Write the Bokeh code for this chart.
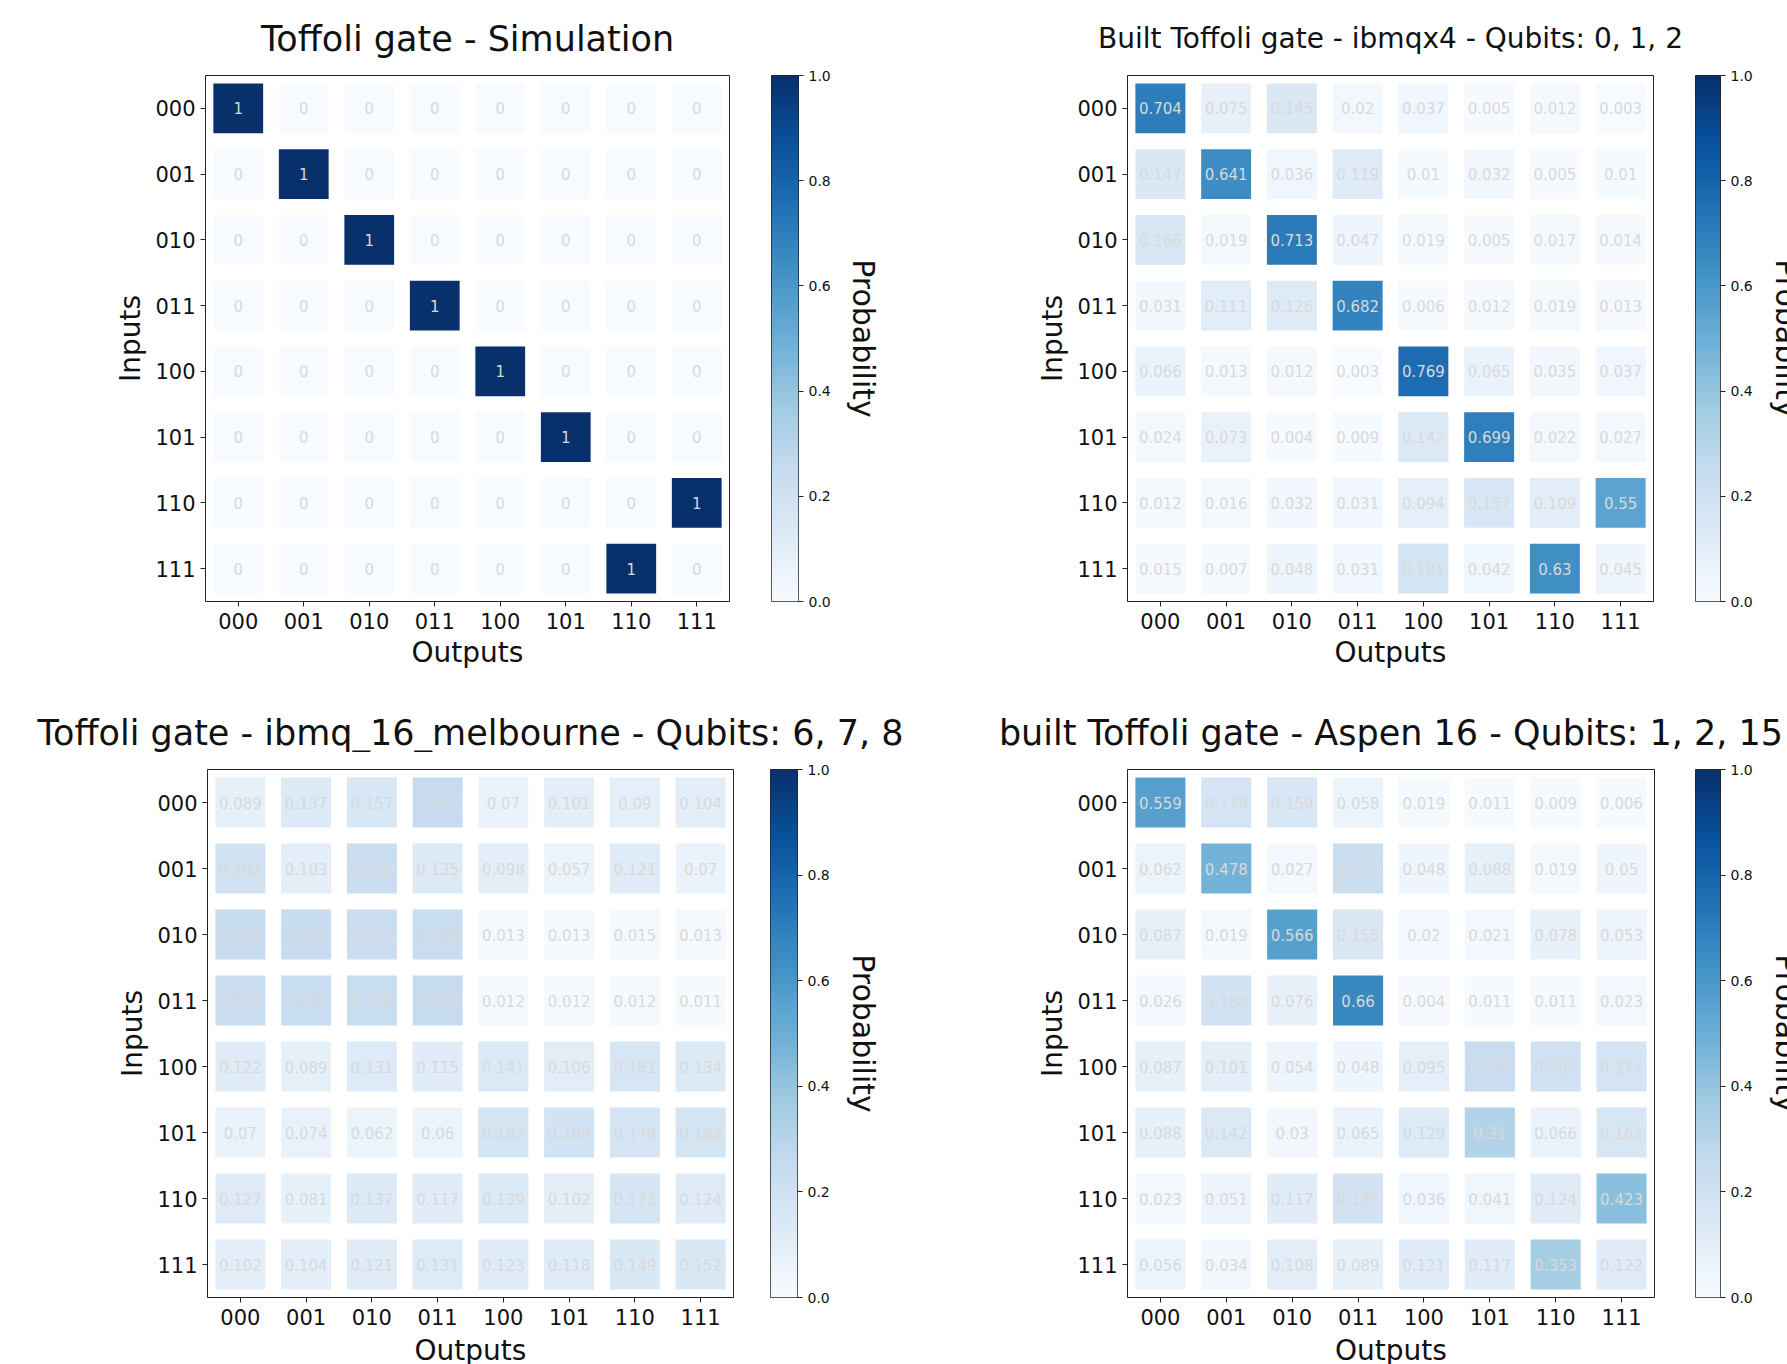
import numpy as np
from math import pi
from bokeh.plotting import figure
from bokeh.models import Range1d, FixedTicker, LinearColorMapper, ColumnDataSource, LinearAxis
from bokeh.layouts import row, column
from bokeh.palettes import Blues256
from bokeh.transform import linear_cmap
from bokeh.core.properties import value
from bokeh.embed import file_html
from bokeh.resources import INLINE

# ---------------- data ----------------
states = ["000", "001", "010", "011", "100", "101", "110", "111"]

simulation = [
    [1, 0, 0, 0, 0, 0, 0, 0],
    [0, 1, 0, 0, 0, 0, 0, 0],
    [0, 0, 1, 0, 0, 0, 0, 0],
    [0, 0, 0, 1, 0, 0, 0, 0],
    [0, 0, 0, 0, 1, 0, 0, 0],
    [0, 0, 0, 0, 0, 1, 0, 0],
    [0, 0, 0, 0, 0, 0, 0, 1],
    [0, 0, 0, 0, 0, 0, 1, 0],
]

ibmqx4 = [
    [0.704, 0.075, 0.145, 0.02, 0.037, 0.005, 0.012, 0.003],
    [0.147, 0.641, 0.036, 0.119, 0.01, 0.032, 0.005, 0.01],
    [0.166, 0.019, 0.713, 0.047, 0.019, 0.005, 0.017, 0.014],
    [0.031, 0.111, 0.126, 0.682, 0.006, 0.012, 0.019, 0.013],
    [0.066, 0.013, 0.012, 0.003, 0.769, 0.065, 0.035, 0.037],
    [0.024, 0.073, 0.004, 0.009, 0.142, 0.699, 0.022, 0.027],
    [0.012, 0.016, 0.032, 0.031, 0.094, 0.157, 0.109, 0.55],
    [0.015, 0.007, 0.048, 0.031, 0.181, 0.042, 0.63, 0.045],
]

melbourne = [
    [0.089, 0.137, 0.157, 0.252, 0.07, 0.101, 0.09, 0.104],
    [0.192, 0.103, 0.226, 0.135, 0.098, 0.057, 0.121, 0.07],
    [0.242, 0.243, 0.223, 0.238, 0.013, 0.013, 0.015, 0.013],
    [0.234, 0.235, 0.236, 0.248, 0.012, 0.012, 0.012, 0.011],
    [0.122, 0.089, 0.131, 0.115, 0.141, 0.106, 0.161, 0.134],
    [0.07, 0.074, 0.062, 0.06, 0.183, 0.189, 0.179, 0.183],
    [0.127, 0.081, 0.137, 0.117, 0.139, 0.102, 0.173, 0.124],
    [0.102, 0.104, 0.121, 0.131, 0.123, 0.118, 0.149, 0.152],
]

aspen = [
    [0.559, 0.179, 0.159, 0.058, 0.019, 0.011, 0.009, 0.006],
    [0.062, 0.478, 0.027, 0.227, 0.048, 0.088, 0.019, 0.05],
    [0.087, 0.019, 0.566, 0.155, 0.02, 0.021, 0.078, 0.053],
    [0.026, 0.188, 0.076, 0.66, 0.004, 0.011, 0.011, 0.023],
    [0.087, 0.101, 0.054, 0.048, 0.095, 0.234, 0.205, 0.177],
    [0.088, 0.142, 0.03, 0.065, 0.129, 0.31, 0.066, 0.162],
    [0.023, 0.051, 0.117, 0.186, 0.036, 0.041, 0.124, 0.423],
    [0.056, 0.034, 0.108, 0.089, 0.121, 0.117, 0.353, 0.122],
]

titles = [
    "Toffoli gate - Simulation",
    "Built Toffoli gate - ibmqx4 - Qubits: 0, 1, 2",
    "Toffoli gate - ibmq_16_melbourne - Qubits: 6, 7, 8",
    "built Toffoli gate - Aspen 16 - Qubits: 1, 2, 15",
]
x_title = "Outputs"
y_title = "Inputs"
cbar_title = "Probability"
cbar_ticks = [0.0, 0.2, 0.4, 0.6, 0.8, 1.0]
cbar_labels = ["0.0", "0.2", "0.4", "0.6", "0.8", "1.0"]

# ---------------- style ----------------
FONT = "DejaVu Sans"
INK = "#111111"
PALETTE = list(reversed(Blues256))
CELL = 0.76
PAGE_W = 1787


def bare(W, H, xr, yr, left=0, right=0, top=0, bottom=0):
    p = figure(width=W, height=H, x_range=xr, y_range=yr,
               output_backend="svg", toolbar_location=None,
               x_axis_location=None, y_axis_location=None,
               min_border_left=left, min_border_right=right,
               min_border_top=top, min_border_bottom=bottom)
    p.grid.visible = False
    p.outline_line_color = None
    p.border_fill_color = "white"
    p.background_fill_color = "white"
    return p


def title_strip(H, items):
    # items: (text, x_center_px, baseline_px, font_size)
    p = bare(PAGE_W, H, Range1d(0, PAGE_W), Range1d(H, 0))
    for text, x, y, size in items:
        p.text(x=[x], y=[y], text=[text], text_align="center", text_baseline="alphabetic",
               text_font=value(FONT), text_font_size=size, text_color=INK)
    return p


def heatmap(matrix, W, H, left, right, top, bottom, with_xlabel):
    p = figure(width=W, height=H, x_range=Range1d(-0.5, 7.5), y_range=Range1d(7.5, -0.5),
               output_backend="svg", toolbar_location=None,
               min_border_left=left, min_border_right=right,
               min_border_top=top, min_border_bottom=bottom)
    xs, ys, vs, ts = [], [], [], []
    for r, rowvals in enumerate(matrix):
        for c, v in enumerate(rowvals):
            xs.append(c)
            ys.append(r)
            vs.append(v)
            ts.append(str(v))
    src = ColumnDataSource(dict(x=xs, y=ys, v=vs, t=ts))
    p.rect(x="x", y="y", width=CELL, height=CELL, source=src,
           fill_color=linear_cmap("v", PALETTE, 0, 1), line_color=None)
    p.text(x="x", y="y", text="t", source=src, text_align="center", text_baseline="middle",
           text_font=value(FONT), text_font_size="15px", text_color="#d9d9d9")

    p.grid.visible = False
    p.outline_line_color = "#222222"
    p.outline_line_width = 1
    p.background_fill_color = "white"
    p.border_fill_color = "white"

    for ax in (p.xaxis[0], p.yaxis[0]):
        ax.ticker = FixedTicker(ticks=list(range(len(states))))
        ax.major_label_overrides = {i: s for i, s in enumerate(states)}
        ax.major_label_text_font = FONT
        ax.major_label_text_font_size = "21px"
        ax.major_label_text_color = INK
        ax.major_tick_out = 5
        ax.major_tick_in = 0
        ax.minor_tick_out = 0
        ax.minor_tick_in = 0
        ax.major_tick_line_color = "#222222"
        ax.axis_line_color = None
        ax.axis_label_text_font = FONT
        ax.axis_label_text_font_size = "28px"
        ax.axis_label_text_font_style = "normal"
        ax.axis_label_text_color = INK
    p.xaxis[0].major_label_standoff = 6
    if with_xlabel:
        p.xaxis[0].axis_label = x_title
        p.xaxis[0].axis_label_standoff = 4
    p.yaxis[0].axis_label = y_title
    p.yaxis[0].major_label_standoff = 5
    p.yaxis[0].axis_label_standoff = 5
    return p


def colorbar(W, H, left, right, top, bottom):
    p = bare(W, H, Range1d(0, 1), Range1d(0, 1), left, right, top, bottom)
    grad = np.linspace(0, 1, 256).reshape(256, 1)
    p.image(image=[grad], x=0, y=0, dw=1, dh=1,
            color_mapper=LinearColorMapper(palette=PALETTE, low=0, high=1))
    p.outline_line_color = "#222222"
    p.outline_line_width = 1
    ax = LinearAxis(ticker=FixedTicker(ticks=cbar_ticks),
                    major_label_overrides={t: s for t, s in zip(cbar_ticks, cbar_labels)})
    ax.major_label_text_font = FONT
    ax.major_label_text_font_size = "14px"
    ax.major_label_text_color = INK
    ax.major_tick_out = 5
    ax.major_tick_in = 0
    ax.minor_tick_out = 0
    ax.minor_tick_in = 0
    ax.major_tick_line_color = "#222222"
    ax.axis_line_color = None
    ax.major_label_standoff = 5
    p.add_layout(ax, "right")
    return p


def prob_strip(W, H, top, bottom, x_center):
    p = bare(W, H, Range1d(0, W), Range1d(0, 1), 0, 0, top, bottom)
    p.text(x=[x_center], y=[0.5], text=[cbar_title], angle=-pi / 2, text_align="center",
           text_baseline="middle", text_font=value(FONT), text_font_size="30px",
           text_color=INK)
    return p


def xlabel_strip(H, centers, y):
    p = bare(PAGE_W, H, Range1d(0, PAGE_W), Range1d(H, 0))
    for x in centers:
        p.text(x=[x], y=[y], text=[x_title], text_align="center", text_baseline="middle",
               text_font=value(FONT), text_font_size="28px", text_color=INK)
    return p


# row 1 : y 0..60 titles, 60..680 plots (frame 75..601)
t1 = title_strip(60, [(titles[0], 467, 38, "35px"), (titles[1], 1390, 38, "28px")])
R1H, R1T, R1B = 620, 15, 79
h1 = heatmap(simulation, 750, R1H, 205, 21, R1T, R1B, True)
c1 = colorbar(95, R1H, 21, 47, R1T, R1B)
s1 = prob_strip(60, R1H, R1T, R1B, 18)
h2 = heatmap(ibmqx4, 768, R1H, 222, 20, R1T, R1B, True)
c2 = colorbar(82, R1H, 22, 34, R1T, R1B)
s2 = prob_strip(32, R1H, R1T, R1B, 31)

# row 2 : y 680..752 titles, 752..1335 plots (frame 769..1297), 1335..1364 x labels
t2 = title_strip(72, [(titles[2], 470, 52, "35px"), (titles[3], 1390.5, 52, "35px")])
R2H, R2T, R2B = 583, 17, 38
h3 = heatmap(melbourne, 750, R2H, 207, 17, R2T, R2B, False)
c3 = colorbar(95, R2H, 20, 48, R2T, R2B)
s3 = prob_strip(60, R2H, R2T, R2B, 18)
h4 = heatmap(aspen, 768, R2H, 222, 19, R2T, R2B, False)
c4 = colorbar(82, R2H, 22, 34, R2T, R2B)
s4 = prob_strip(32, R2H, R2T, R2B, 31)
b2 = xlabel_strip(29, [470, 1390.5], 15)

layout = column(t1, row(h1, c1, s1, h2, c2, s2), t2, row(h3, c3, s3, h4, c4, s4), b2)

open("out.html", "w").write(file_html(layout, INLINE))
